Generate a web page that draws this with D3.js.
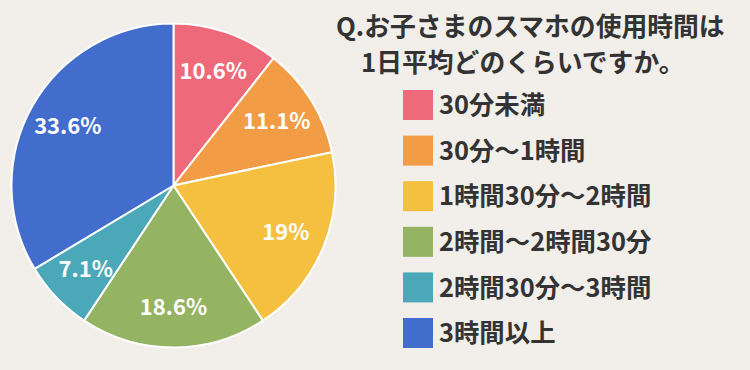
<!DOCTYPE html>
<html>
<head>
<meta charset="utf-8">
<script src="https://cdn.jsdelivr.net/npm/d3@7"></script>
<style>
  html, body { margin: 0; padding: 0; background: #f2eeea; }
  svg { display: block; font-family: "Noto Sans CJK JP", "Noto Sans", sans-serif; }
</style>
</head>
<body>
<div id="chart"></div>
<script>
// data
var categories = ["30分未満", "30分〜1時間", "1時間30分〜2時間", "2時間〜2時間30分", "2時間30分〜3時間", "3時間以上"];
var values = [10.6, 11.1, 19, 18.6, 7.1, 33.6];
var colors = ["#ee6a7a", "#f29c45", "#f5c040", "#94b463", "#4ba8b9", "#436dcc"];
var titleLines = ["Q.お子さまのスマホの使用時間は", "1日平均どのくらいですか。"];

var width = 750, height = 370;

var svg = d3.select("#chart").append("svg")
    .attr("width", width)
    .attr("height", height);

svg.append("rect")
    .attr("width", width)
    .attr("height", height)
    .attr("fill", "#f2eeea");

// pie
var cx = 173.5, cy = 185.5, radius = 162;

var pie = d3.pie().sort(null).value(function(d) { return d; });
var arc = d3.arc().innerRadius(0).outerRadius(radius);
var labelArc = d3.arc().innerRadius(radius * 0.75).outerRadius(radius * 0.75);

var g = svg.append("g").attr("transform", "translate(" + cx + "," + cy + ")");

var arcs = pie(values);

g.selectAll(".slice")
    .data(arcs)
    .enter().append("path")
    .attr("class", "slice")
    .attr("d", arc)
    .attr("fill", function(d, i) { return colors[i]; })
    .attr("stroke", "#ffffff")
    .attr("stroke-width", 2);

g.selectAll(".pct")
    .data(arcs)
    .enter().append("text")
    .attr("class", "pct")
    .attr("transform", function(d) { return "translate(" + labelArc.centroid(d) + ")"; })
    .attr("text-anchor", "middle")
    .attr("dy", "0.36em")
    .attr("font-size", "22px")
    .attr("font-weight", 700)
    .attr("fill", "#ffffff")
    .text(function(d) { return d.data + "%"; });

// title (second line indented by one character)
svg.selectAll(".title")
    .data(titleLines)
    .enter().append("text")
    .attr("class", "title")
    .attr("x", function(d, i) { return i === 0 ? 336 : 361; })
    .attr("y", function(d, i) { return 36 + i * 36; })
    .attr("font-size", "25.8px")
    .attr("font-weight", 700)
    .attr("fill", "#333333")
    .text(function(d) { return d; });

// legend
var legendY = d3.scalePoint()
    .domain(categories)
    .range([105, 333]);

var legend = svg.selectAll(".legend")
    .data(categories)
    .enter().append("g")
    .attr("class", "legend")
    .attr("transform", function(d) { return "translate(403," + legendY(d) + ")"; });

legend.append("rect")
    .attr("x", 0)
    .attr("y", -15)
    .attr("width", 30)
    .attr("height", 30)
    .attr("fill", function(d, i) { return colors[i]; });

legend.append("text")
    .attr("x", 36)
    .attr("dy", "0.36em")
    .attr("font-size", "25.4px")
    .attr("font-weight", 700)
    .attr("fill", "#333333")
    .text(function(d) { return d; });
</script>
</body>
</html>
